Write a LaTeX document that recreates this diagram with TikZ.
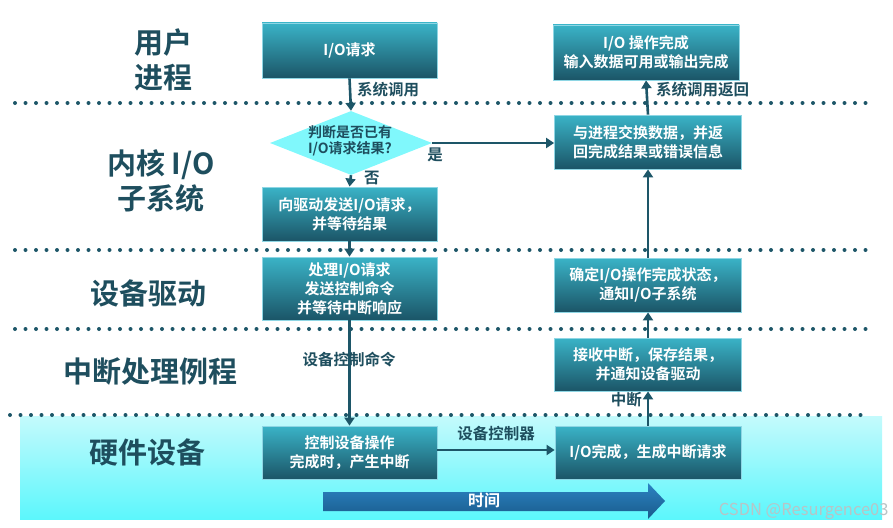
\documentclass[tikz,border=0pt]{standalone}
\usepackage{fontspec}
\setmainfont{Noto Sans CJK SC}[BoldFont={Noto Sans CJK SC Bold}]
\usetikzlibrary{shapes.geometric,arrows.meta}

\definecolor{boxtop}{HTML}{3AB3C7}
\definecolor{boxbot}{HTML}{1B5567}
\definecolor{boxedge}{HTML}{8ED6E4}
\definecolor{ink}{HTML}{1E4E5E}
\definecolor{flow}{HTML}{1D5668}
\definecolor{decide}{HTML}{80F8FC}
\definecolor{hwtop}{HTML}{C4FAFC}
\definecolor{hwbot}{HTML}{5CF7FC}
\definecolor{timetop}{HTML}{2B83C3}
\definecolor{timebot}{HTML}{195B8B}
\definecolor{mark}{HTML}{B8C4C6}

\tikzset{
  stepbox/.style={rectangle, draw=boxedge, line width=0.8pt,
    top color=boxtop, bottom color=boxbot, text=white,
    font=\bfseries\fontsize{15}{19}\selectfont, align=center, inner sep=2pt},
  layer/.style={text=ink, font=\bfseries\fontsize{29}{35}\selectfont, align=center},
  note/.style={text=ink, font=\bfseries\fontsize{15.5}{18}\selectfont, inner sep=1pt},
  flowline/.style={draw=flow, line width=2.6pt,
    -{Triangle[length=8pt,width=10pt]}},
  dotline/.style={draw=flow, line width=4pt, line cap=round,
    dash pattern=on 0pt off 10.5pt}
}

\begin{document}
\begin{tikzpicture}[x=1pt,y=-1pt]
\useasboundingbox (0,0) rectangle (893,527);

% hardware layer band
\shade[top color=hwtop, bottom color=hwbot] (20,416) rectangle (882,519);

% layer separators
\draw[dotline] (15,103) -- (868,103);
\draw[dotline] (15,250) -- (868,250);
\draw[dotline] (15,329) -- (868,329);
\draw[dotline] (10,415) -- (863,415);

% layer names
\node[layer] (lUser) at (163,60) {用户\\进程};
\node[layer] (lKernel) at (161,181) {内核 I/O\\子系统};
\node[layer] (lDriver) at (148,293) {设备驱动};
\node[layer] (lIrq) at (150,372) {中断处理例程};
\node[layer] (lHw) at (147,452) {硬件设备};

% time arrow
\shade[top color=timetop, bottom color=timebot]
  (323,492) -- (648,492) -- (648,483) -- (665,501) -- (648,519)
  -- (648,511) -- (323,511) -- cycle;
\node[text=white, font=\bfseries\fontsize{16}{18}\selectfont] (time) at (484,500) {时间};

% request path
\node[stepbox, minimum width=175, minimum height=55] (req) at (349.5,50.5) {I/O请求};
\node[diamond, fill=decide, minimum width=162, minimum height=64, inner sep=0pt] (check) at (351,143) {};
\node[text=ink, font=\bfseries\fontsize{14}{16}\selectfont, align=center] (checkText) at (350,141) {判断是否已有\\I/O请求结果?};
\node[stepbox, minimum width=175, minimum height=54] (send) at (349.5,214) {向驱动发送I/O请求，\\并等待结果};
\node[stepbox, minimum width=175, minimum height=63] (drv) at (349.5,288.5) {处理I/O请求\\发送控制命令\\并等待中断响应};
\node[stepbox, minimum width=175, minimum height=53] (ctl) at (349.5,452.5) {控制设备操作\\完成时，产生中断};

% completion path
\node[stepbox, minimum width=186, minimum height=55] (done) at (646,52.5) {I/O 操作完成\\输入数据可用或输出完成};
\node[stepbox, minimum width=187, minimum height=54] (swap) at (648,142) {与进程交换数据，并返\\回完成结果或错误信息};
\node[stepbox, minimum width=187, minimum height=54] (state) at (648,285) {确定I/O操作完成状态，\\通知I/O子系统};
\node[stepbox, minimum width=187, minimum height=53] (recv) at (648,364.5) {接收中断，保存结果，\\并通知设备驱动};
\node[stepbox, minimum width=186, minimum height=53] (fin) at (648,452.5) {I/O完成，生成中断请求};

% connectors
\draw[flowline] (req.south) -- (check.north);
\draw[flowline] (check.south) -- (send.north);
\draw[flowline] (send.south) -- (drv.north);
\draw[flowline] (drv.south) -- (ctl.north);
\draw[flowline] (check.east) -- (swap.west |- check.east);
\draw[flowline] (ctl.east |- 0,450) -- (fin.west |- 0,450);
\draw[flowline] (fin.north) -- (recv.south);
\draw[flowline] (recv.north) -- (state.south);
\draw[flowline] (state.north) -- (swap.south);
\draw[flowline] (swap.north) -- (done.south);

% connector labels
\node[note, anchor=west] (tSys) at (356,90) {系统调用};
\node[note, anchor=west] (tRet) at (655,90) {系统调用返回};
\node[note, anchor=west] (tNo) at (363,178) {否};
\node[note] (tYes) at (435,155) {是};
\node[note] (tCmd) at (349,360) {设备控制命令};
\node[note] (tCtrl) at (496,434) {设备控制器};
\node[note, anchor=east] (tIrq) at (643,400) {中断};

% credit line
\node[text=mark, font=\fontsize{16.5}{18}\selectfont, anchor=east] (credit) at (892,511) {CSDN @Resurgence03};
\end{tikzpicture}
\end{document}
